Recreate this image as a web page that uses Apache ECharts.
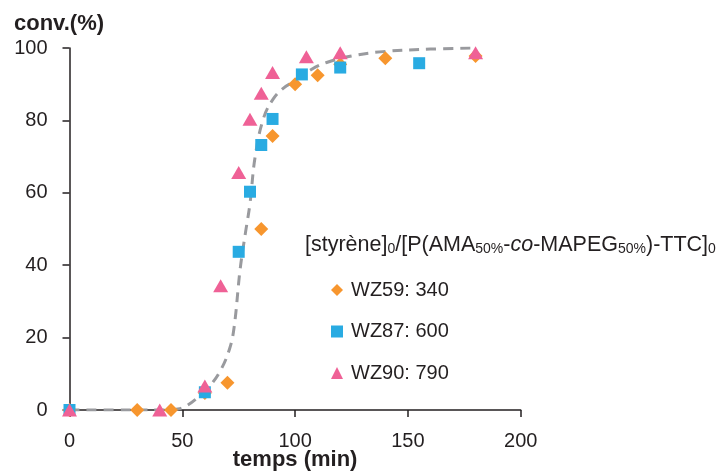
<!DOCTYPE html>
<html>
<head>
<meta charset="utf-8">
<script src="https://cdn.jsdelivr.net/npm/echarts@6/dist/echarts.min.js"></script>
<style>html,body{margin:0;padding:0;background:#fff;}#c{width:718px;height:472px;}</style>
</head>
<body>
<div id="c"></div>
<script>
const xTicks = [0, 50, 100, 150, 200];
const yTicks = [0, 20, 40, 60, 80, 100];

const wz59X = [0, 30, 45, 60, 70, 85, 90, 100, 110, 120, 140, 180];
const wz59Y = [0, 0, 0, 4.7, 7.5, 50, 75.7, 90, 92.5, 95.5, 97.2, 97.8];

const wz87X = [0, 60, 75, 80, 85, 90, 103, 120, 155];
const wz87Y = [0, 4.9, 43.7, 60.3, 73.2, 80.4, 92.7, 94.6, 95.8];

const wz90X = [0, 40, 60, 67, 75, 80, 85, 90, 105, 120, 180];
const wz90Y = [0, 0, 6.6, 34.3, 65.6, 80.3, 87.5, 93.2, 97.6, 98.7, 98.7];

const fitX = [0, 20, 40, 48, 52, 57, 62, 67, 71, 73, 75.6, 78, 80, 82.3, 86, 90.4, 95, 99.3, 107, 114, 125, 139, 160, 178];
const fitY = [0, 0, 0, 0.3, 1.2, 3.5, 6.5, 11, 17, 23, 38.7, 49, 57, 70, 80.6, 86, 89, 90.7, 94, 96, 97.8, 99, 99.7, 100];

const zip = (xs, ys) => xs.map((x, i) => [x, ys[i]]);
const FONT = 'Liberation Sans, Arial, sans-serif';
const TXT = '#231f20';

const chart = echarts.init(document.getElementById('c'));
chart.setOption({
  animation: false,
  backgroundColor: '#fff',
  grid: { left: 69.5, right: 197.3, top: 48, bottom: 62, outerBoundsMode: 'none', containLabel: false },
  xAxis: {
    type: 'value', min: xTicks[0], max: xTicks[xTicks.length - 1], interval: 50,
    name: 'temps (min)', nameLocation: 'middle', nameGap: 39, nameMoveOverlap: false,
    nameTextStyle: { fontFamily: FONT, fontSize: 22, fontWeight: 'bold', color: TXT },
    axisLine: { lineStyle: { color: TXT, width: 1.5 } },
    axisTick: { length: 7, lineStyle: { color: TXT, width: 1.5 } },
    axisLabel: { fontFamily: FONT, fontSize: 20, color: TXT, margin: 21 },
    splitLine: { show: false }
  },
  yAxis: {
    type: 'value', min: yTicks[0], max: yTicks[yTicks.length - 1], interval: 20,
    axisLine: { show: true, lineStyle: { color: TXT, width: 1.5 } },
    axisTick: { show: true, length: 7, lineStyle: { color: TXT, width: 1.5 } },
    axisLabel: { fontFamily: FONT, fontSize: 20, color: TXT, margin: 22 },
    splitLine: { show: false }
  },
  graphic: [
    { type: 'text', left: 14, top: 13, style: { text: 'conv.(%)', font: 'bold 22px ' + FONT, fill: TXT } },
    { type: 'text', left: 305, top: 234, style: {
      text: '[styrène]{s|0}/[P(AMA{s|50%}-{i|co}-MAPEG{s|50%})-TTC]{s|0}',
      fontFamily: FONT, fontSize: 21.5, fill: TXT,
      rich: {
        s: { fontFamily: FONT, fontSize: 14, fill: TXT, padding: [9, 0, 0, 0] },
        i: { fontFamily: FONT, fontSize: 21.5, fontStyle: 'italic', fill: TXT }
      }
    } }
  ],
  legend: {
    orient: 'vertical', left: 326, top: 275, itemGap: 21.5,
    itemWidth: 12, itemHeight: 12,
    textStyle: { fontFamily: FONT, fontSize: 20, color: TXT, padding: [0, 0, 0, 3] },
    data: ['WZ59: 340', 'WZ87: 600', 'WZ90: 790']
  },
  series: [
    { type: 'line', name: 'fit', data: zip(fitX, fitY), smooth: 0.4, showSymbol: false, symbol: 'none',
      lineStyle: { color: '#999a9e', width: 3, type: [10, 7] }, z: 1, silent: true },
    { type: 'scatter', name: 'WZ59: 340', data: zip(wz59X, wz59Y), symbol: 'diamond', symbolSize: 14,
      itemStyle: { color: '#f7962e', opacity: 1 }, z: 2 },
    { type: 'scatter', name: 'WZ87: 600', data: zip(wz87X, wz87Y), symbol: 'rect', symbolSize: 12,
      itemStyle: { color: '#29abe2', opacity: 1 }, z: 3 },
    { type: 'scatter', name: 'WZ90: 790', data: zip(wz90X, wz90Y), symbol: 'triangle', symbolSize: [15, 13],
      itemStyle: { color: '#ef6196', opacity: 1 }, z: 4 }
  ]
});
</script>
</body>
</html>
